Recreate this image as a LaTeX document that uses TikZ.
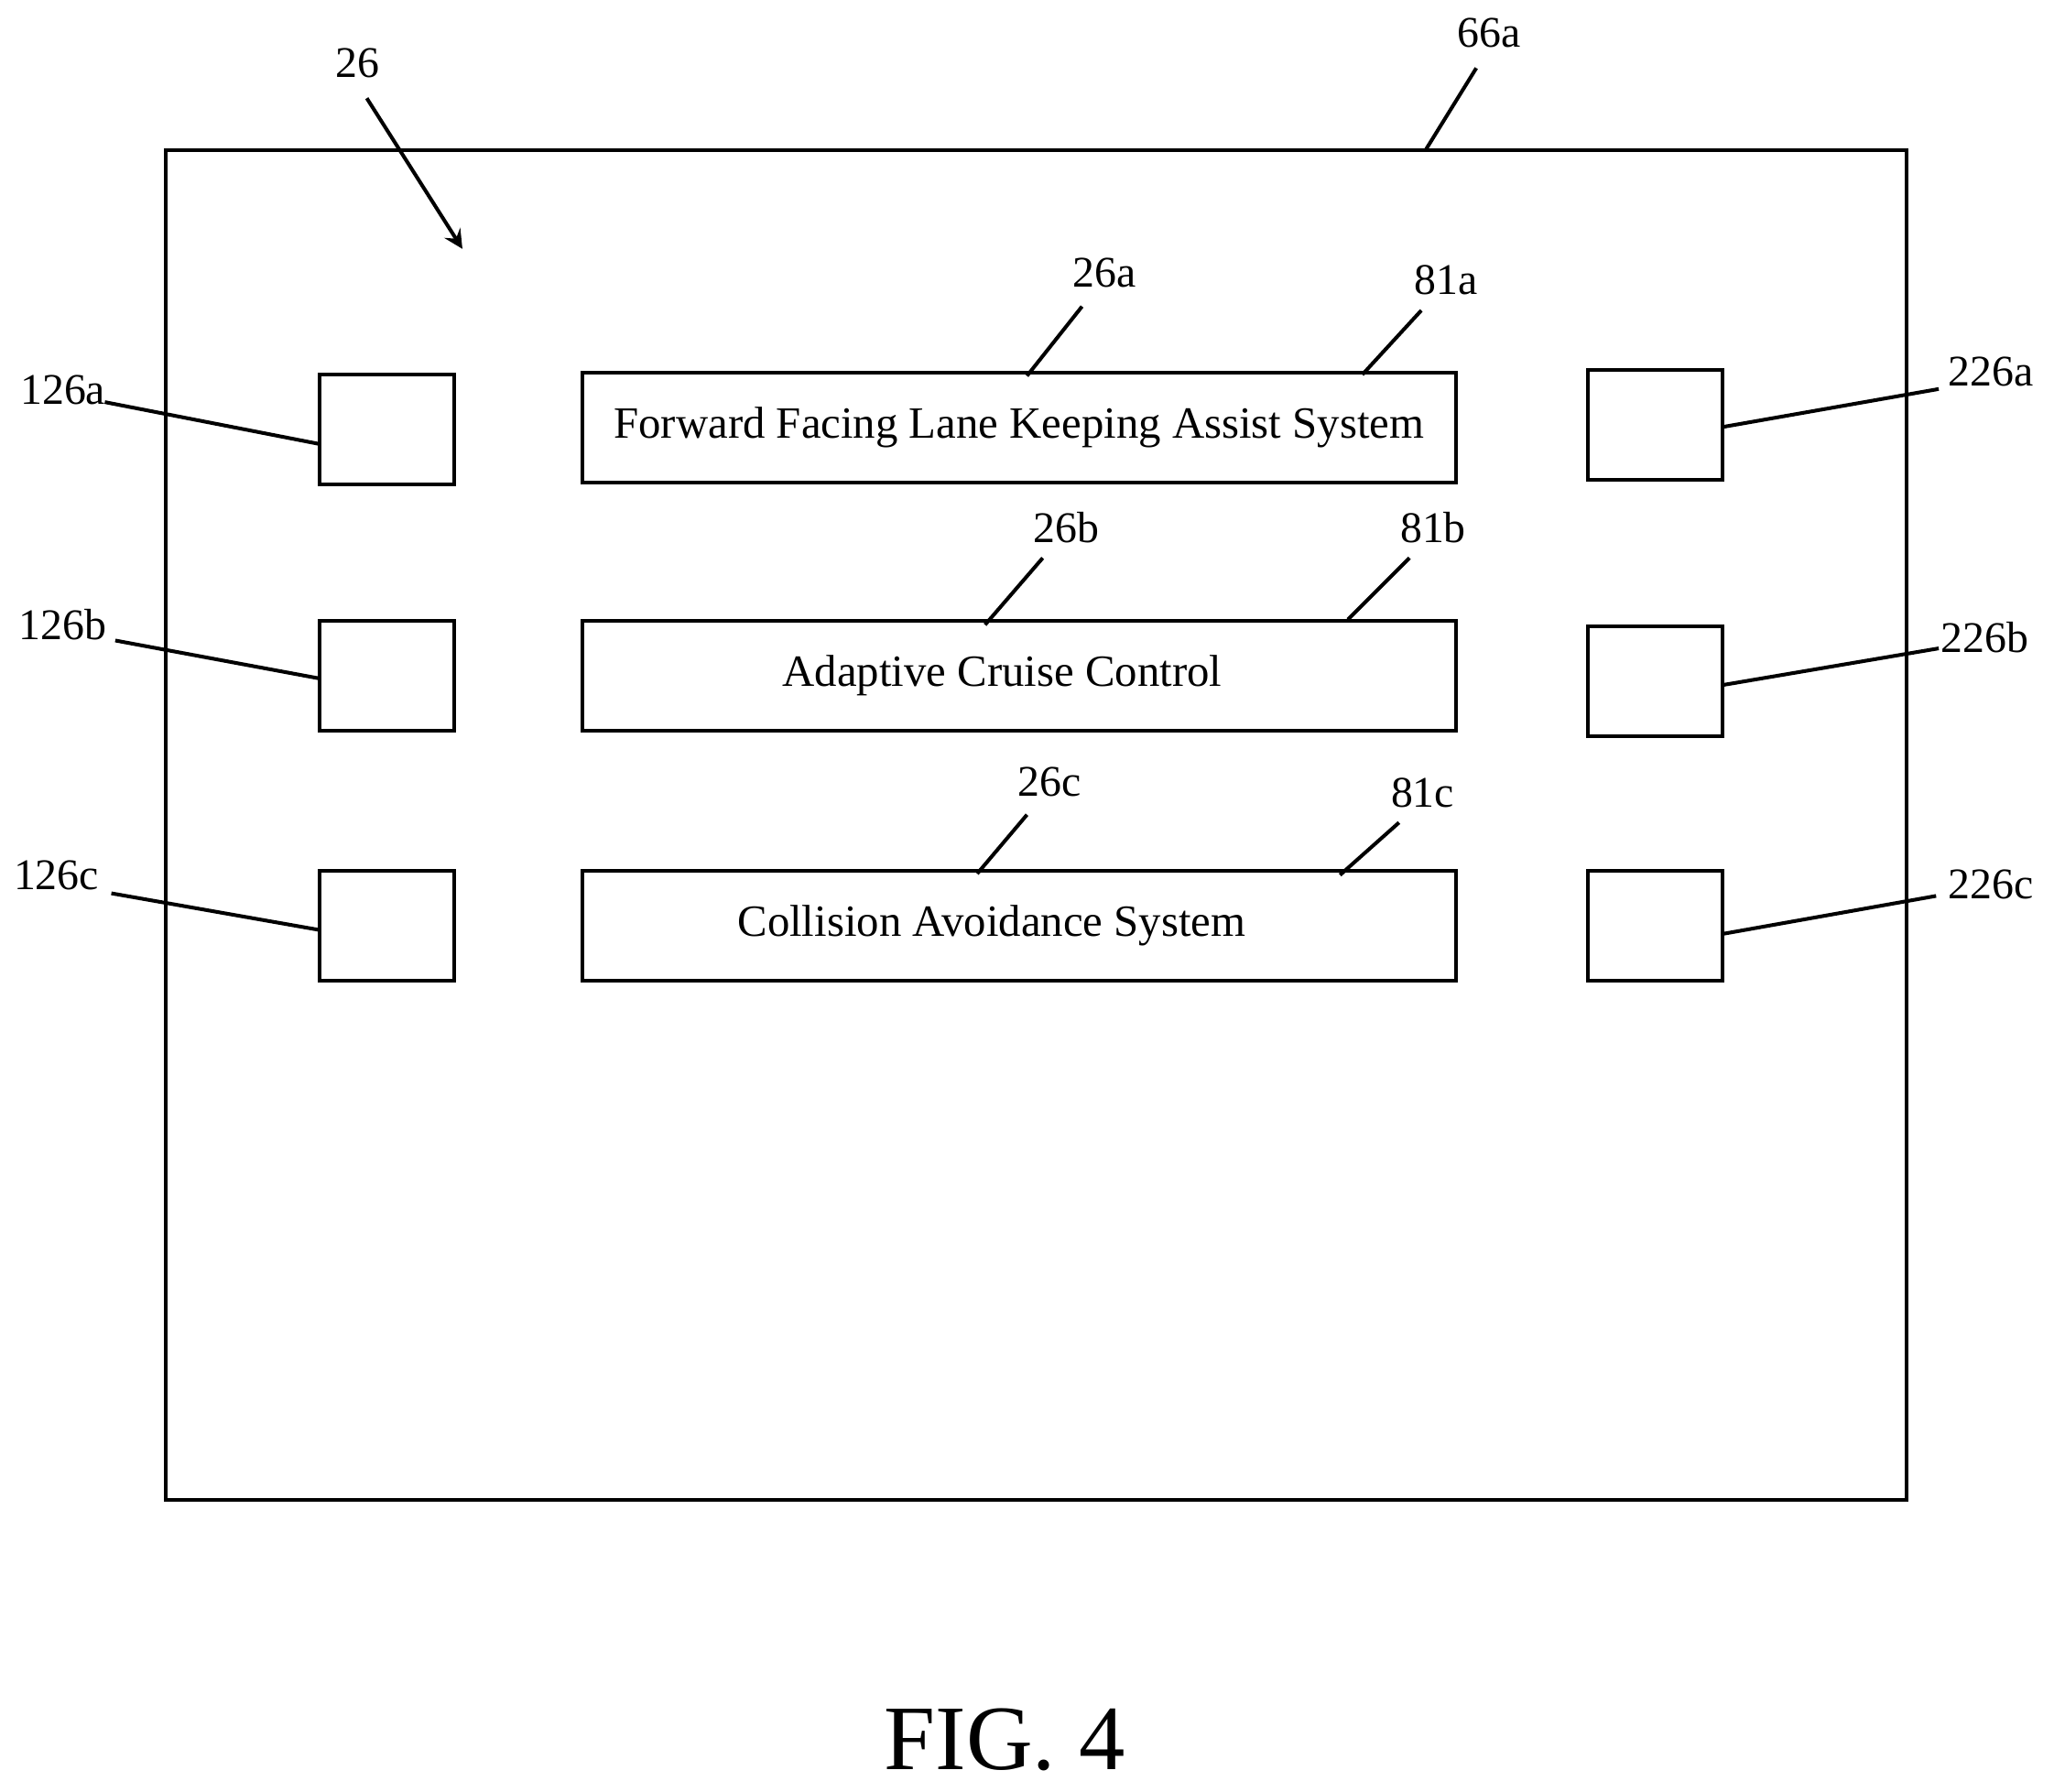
\documentclass[tikz,border=0pt]{standalone}
\usepackage{fontspec}
\setmainfont{Liberation Serif}
\begin{document}
\begin{tikzpicture}[x=0.01cm,y=-0.01cm,line width=0.8pt,
    sq/.style={draw,minimum width=1.03cm,minimum height=0.84cm,inner sep=0pt},
    bar/.style={draw,minimum width=6.66cm,minimum height=0.84cm,inner sep=0pt,font=\fontsize{9.7}{12}\selectfont},
    lbl/.style={font=\fontsize{9.5}{11}\selectfont,inner sep=1pt}]
    \useasboundingbox (0,0) rectangle (1568,1368);
    \node[draw,minimum width=13.28cm,minimum height=10.30cm,inner sep=0pt] (frame) at (791,630) {};
    % left squares
    \node[sq] (l1) at (295.5,328) {}; \node[sq] (l2) at (295.5,516) {}; \node[sq] (l3) at (295.5,707) {};
    % bars
    \node[bar] (s1) at (778,326.5) {Forward Facing Lane Keeping Assist System};
    \node[bar] (s2) at (778,516) {\hspace*{-0.26cm}Adaptive Cruise Control};
    \node[bar] (s3) at (778,707) {\hspace*{-0.42cm}Collision Avoidance System};
    % right squares
    \node[sq] (r1) at (1263.5,324.5) {}; \node[sq] (r2) at (1263.5,520) {}; \node[sq] (r3) at (1263.5,707) {};

    \node[lbl] (n26) at (273,48) {26}; \coordinate (t26) at (353,190);
    \draw[->,>=stealth] (280,75) -- (t26);
    \node[lbl] (n66a) at (1137,25) {66a}; \draw (1127,52) -- (1088,115);

    \node[lbl] (n126a) at (48,298) {126a}; \draw (80,307) -- (244,339);
    \node[lbl] (n126b) at (48,477) {126b}; \draw (88,489) -- (244,518);
    \node[lbl] (n126c) at (43,668) {126c}; \draw (85,682) -- (244,710);
    \node[lbl] (n226a) at (1520,284) {226a}; \draw (1480,297) -- (1315,326);
    \node[lbl] (n226b) at (1515,487) {226b}; \draw (1480,495) -- (1315,523);
    \node[lbl] (n226c) at (1520,675) {226c}; \draw (1478,684) -- (1315,713);

    \node[lbl] (n26a) at (843,208) {26a}; \draw (826,234) -- (784,287);
    \node[lbl] (n81a) at (1104,214) {81a}; \draw (1085,237) -- (1040,286);
    \node[lbl] (n26b) at (814,403) {26b}; \draw (796,426) -- (752,477);
    \node[lbl] (n81b) at (1094,403) {81b}; \draw (1076,426) -- (1029,473);
    \node[lbl] (n26c) at (801,597) {26c}; \draw (784,622) -- (746,667);
    \node[lbl] (n81c) at (1086,605) {81c}; \draw (1068,628) -- (1023,668);

    \node[font=\fontsize{20}{24}\selectfont] (fig) at (767,1328) {FIG. 4};
\end{tikzpicture}
\end{document}
